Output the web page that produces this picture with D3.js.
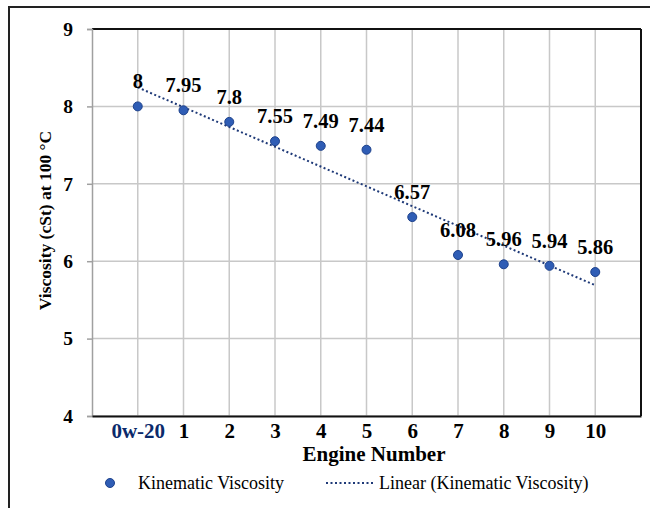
<!DOCTYPE html>
<html><head><meta charset="utf-8">
<script src="https://cdn.jsdelivr.net/npm/d3@7"></script>
<style>body{margin:0;background:#fff}svg{display:block}</style>
</head><body>
<script>
const categories = ["0w-20","1","2","3","4","5","6","7","8","9","10"];
const viscosity = [8, 7.95, 7.8, 7.55, 7.49, 7.44, 6.57, 6.08, 5.96, 5.94, 5.86];
const yTicks = [4,5,6,7,8,9];
const seriesName = "Kinematic Viscosity";
const trendName = "Linear (Kinematic Viscosity)";

const W = 650, H = 508;
const m = {left: 92, right: 641, top: 29, bottom: 416};
const svg = d3.select("body").append("svg").attr("width", W).attr("height", H);
const serif = "'Liberation Serif','Times New Roman',serif";

// outer frame
svg.append("rect").attr("x", 9).attr("y", 7).attr("width", 700).attr("height", 600)
  .attr("fill", "#fff").attr("stroke", "#222").attr("stroke-width", 2);

const x = d3.scalePoint().domain(categories).range([m.left, m.right]).padding(1);
const y = d3.scaleLinear().domain([4, 9]).range([m.bottom, m.top]);

// gridlines
svg.append("g").selectAll("line").data(yTicks).join("line")
  .attr("x1", m.left).attr("x2", m.right).attr("y1", d => y(d)).attr("y2", d => y(d))
  .attr("stroke", "#c8c8c8").attr("stroke-width", 1.5);
svg.append("g").selectAll("line").data(categories).join("line")
  .attr("x1", d => x(d)).attr("x2", d => x(d)).attr("y1", m.top).attr("y2", m.bottom)
  .attr("stroke", "#c8c8c8").attr("stroke-width", 1.5);

// plot borders
svg.append("line").attr("x1", m.left).attr("x2", m.right).attr("y1", m.top).attr("y2", m.top)
  .attr("stroke", "#111").attr("stroke-width", 2);
svg.append("line").attr("x1", m.right).attr("x2", m.right).attr("y1", m.top).attr("y2", m.bottom)
  .attr("stroke", "#111").attr("stroke-width", 2);

// y axis
const yAxis = svg.append("g").attr("transform", `translate(${m.left},0)`)
  .call(d3.axisLeft(y).tickValues(yTicks).tickSize(5).tickPadding(14).tickFormat(d3.format("d")));
yAxis.select(".domain").attr("stroke", "#a0a0a0").attr("stroke-width", 1.5);
yAxis.selectAll(".tick line").attr("stroke", "#a0a0a0").attr("stroke-width", 1.5);
yAxis.selectAll("text").attr("font-family", serif).attr("font-size", 19.5).attr("font-weight", "bold").attr("fill", "#000");

// x axis
const xAxis = svg.append("g").attr("transform", `translate(0,${m.bottom})`)
  .call(d3.axisBottom(x).tickSize(0).tickPadding(7));
xAxis.select(".domain").attr("stroke", "#111").attr("stroke-width", 2);
xAxis.selectAll("text").attr("font-family", serif).attr("font-size", 21).attr("font-weight", "bold")
  .attr("fill", d => d === "0w-20" ? "#0b2a6b" : "#000");

// axis titles
svg.append("text").attr("x", 374).attr("y", 461).attr("text-anchor", "middle")
  .attr("font-family", serif).attr("font-size", 21).attr("font-weight", "bold").text("Engine Number");
svg.append("text").attr("transform", `translate(51,${(m.top + m.bottom) / 2 - 2}) rotate(-90)`)
  .attr("text-anchor", "middle").attr("font-family", serif).attr("font-size", 17.5).attr("font-weight", "bold")
  .text("Viscosity (cSt) at 100 °C");

// linear trend
const xs = categories.map((c, i) => i);
const mx = d3.mean(xs), my = d3.mean(viscosity);
const slope = d3.sum(xs, (xi, i) => (xi - mx) * (viscosity[i] - my)) / d3.sum(xs, xi => (xi - mx) ** 2);
const icpt = my - slope * mx;
const ends = [0, categories.length - 1];
svg.append("path")
  .attr("d", d3.line().x(i => x(categories[i])).y(i => y(icpt + slope * i))(ends))
  .attr("fill", "none").attr("stroke", "#1f3a78").attr("stroke-width", 2).attr("stroke-dasharray", "2,2.5");

// points
svg.append("g").selectAll("circle").data(viscosity).join("circle")
  .attr("cx", (d, i) => x(categories[i])).attr("cy", d => y(d)).attr("r", 4.5)
  .attr("fill", "#2f5db5").attr("stroke", "#1e428c").attr("stroke-width", 1);

// labels
svg.append("g").selectAll("text").data(viscosity).join("text")
  .attr("x", (d, i) => x(categories[i])).attr("y", d => y(d) - 18).attr("text-anchor", "middle")
  .attr("font-family", serif).attr("font-size", 20.5).attr("font-weight", "bold").text(d => d);

// legend
svg.append("circle").attr("cx", 110).attr("cy", 483).attr("r", 4.5)
  .attr("fill", "#2f5db5").attr("stroke", "#1e428c");
svg.append("text").attr("x", 138).attr("y", 489).attr("font-family", serif).attr("font-size", 18).text(seriesName);
svg.append("line").attr("x1", 326).attr("x2", 373).attr("y1", 483).attr("y2", 483)
  .attr("stroke", "#1f3a78").attr("stroke-width", 2).attr("stroke-dasharray", "2,2.5");
svg.append("text").attr("x", 379).attr("y", 489).attr("font-family", serif).attr("font-size", 18).text(trendName);
</script>
</body></html>
